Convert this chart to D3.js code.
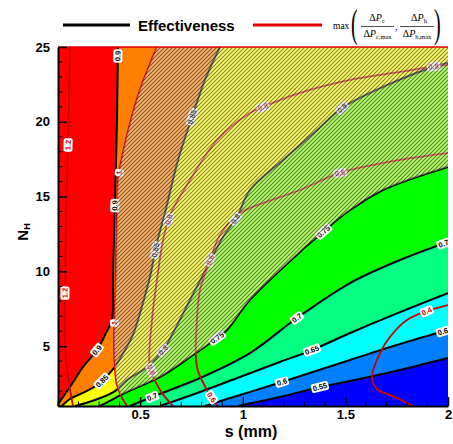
<!DOCTYPE html>
<html>
<head>
<meta charset="utf-8">
<script src="https://cdn.jsdelivr.net/npm/d3@7"></script>
<style>
  body { margin: 0; background: #fff; }
  svg { display: block; }
</style>
</head>
<body>
<svg id="chart" width="453" height="444"></svg>
<script>
// ---- axis ticks ----
const xMajorTicks = [0.5, 1, 1.5, 2];
const yMajorTicks = [5, 10, 15, 20, 25];

// ---- effectiveness contour lines, [s (mm), N_H], ordered from the low-s / low-N end ----
const effLevels = [0.55, 0.6, 0.65, 0.7, 0.75, 0.8, 0.85, 0.9];
const bandColors = ["#0000ff", "#0080ff", "#00ffff", "#00ff80", "#00ff00", "#80ff00", "#ffff00", "#ff8000", "#ff0000"];

const eff055 = [[0.977,1],[1.181,1.60],[1.376,2.27],[1.523,2.67],[1.766,3.41],[2,4.21]];
const eff060 = [[0.816,1],[0.987,1.74],[1.191,2.60],[1.523,4.08],[1.766,5.14],[2,6.08]];
const eff065 = [[0.597,1],[0.792,1.94],[0.987,2.94],[1.181,3.94],[1.337,4.74],[1.523,5.88],[1.766,7.28],[2,8.55]];
const eff070 = [[0.451,1],[0.558,1.60],[0.646,2.07],[0.792,2.87],[1.035,4.54],[1.264,6.88],[1.523,9.22],[1.766,10.76],[2,11.97]];
const eff075 = [[0.305,1],[0.387,1.60],[0.436,1.94],[0.597,2.94],[0.758,4.41],[0.875,5.55],[0.923,6.08],[1.035,8.09],[1.279,11.30],[1.391,12.63],[1.459,13.44],[1.523,14.10],[1.683,15.44],[2,16.98]];
const eff080 = [[0.183,1],[0.280,1.40],[0.378,2.00],[0.436,2.74],[0.534,3.61],[0.612,4.74],[0.660,5.88],[0.743,8.09],[0.826,10.29],[0.904,12.30],[0.972,13.64],[1.035,15.44],[1.196,17.45],[1.362,19.45],[1.484,20.92],[1.683,22.33],[1.912,23.60],[2,23.93]];
const eff085 = [[0.119,1],[0.158,1.47],[0.232,1.94],[0.305,2.54],[0.344,3.07],[0.383,3.74],[0.421,4.61],[0.465,5.75],[0.504,7.42],[0.548,9.62],[0.582,11.90],[0.621,13.90],[0.685,17.45],[0.753,20.32],[0.816,22.80],[0.889,25]];
const eff090 = [[0.1,1.13],[0.158,2.27],[0.222,3.61],[0.290,4.74],[0.334,5.88],[0.363,6.75],[0.368,8.76],[0.370,10.76],[0.378,14.97],[0.387,19.92],[0.392,25]];
const effLines = [eff055, eff060, eff065, eff070, eff075, eff080, eff085, eff090];

// ---- pressure-drop ratio contours: max(dPc/dPc,max , dPh/dPh,max) ----
const dpLevels = ["0.4", "0.6", "0.8", "1", "1.2"];
const dp04 = [[2,7.75],[1.898,7.35],[1.800,6.75],[1.717,5.61],[1.669,4.54],[1.630,2.94],[1.659,2.07],[1.717,1.74],[1.830,1]];
const dp06 = [[2,17.91],[1.766,17.45],[1.474,16.58],[1.279,15.44],[1.035,14.24],[0.972,13.77],[0.889,12.43],[0.841,10.76],[0.792,8.76],[0.777,6.75],[0.777,3.61],[0.826,2.07],[0.875,1]];
const dp08 = [[2,23.80],[1.912,23.66],[1.766,23.33],[1.523,22.80],[1.279,21.93],[1.099,20.99],[1.035,20.59],[0.875,18.78],[0.743,16.11],[0.646,13.77],[0.612,12.10],[0.582,9.42],[0.558,6.75],[0.548,3.61],[0.597,2.07],[0.660,1]];
const dp10 = [[0.582,25],[0.499,22.13],[0.451,19.92],[0.412,17.65],[0.392,16.11],[0.387,13.90],[0.383,10.76],[0.378,8.09],[0.373,5.41],[0.378,3.41],[0.387,2.40],[0.412,1.54],[0.436,1]];
const dp12 = [[0.158,25],[0.149,18.45],[0.139,13.44],[0.134,8.55],[0.134,5.21],[0.149,2.94],[0.173,1]];
const dpLines = [dp04, dp06, dp08, dp10, dp12];

// ---- contour labels: [level index, s, N] ----
const effLabelSpots = [
  [7,0.392,24.4],[7,0.376,14.4],[7,0.290,4.74],
  [6,0.753,20.32],[6,0.582,11.4],[6,0.319,2.60],
  [5,1.484,20.92],[5,0.955,13.6],[5,0.612,4.74],
  [4,1.391,12.7],[4,0.875,5.55],
  [3,1.264,6.88],[3,0.558,1.62],[3,1.975,11.97],
  [2,1.337,4.74],
  [1,1.191,2.60],[1,1.975,5.96],
  [0,1.376,2.27]
];
const dpLabelSpots = [
  [0,1.898,7.28],
  [1,1.474,16.58],[1,0.841,10.76],[1,0.850,1.60],
  [2,1.930,23.66],[2,1.099,20.99],[2,0.612,13.57],[2,0.552,3.41],
  [3,0.398,16.6],[3,0.375,6.55],
  [4,0.149,18.45],[4,0.134,8.55]
];

// ---- layout ----
const svg = d3.select("#chart");
const xMin = 0.1, xMax = 2, yMin = 1, yMax = 25;
const x = d3.scaleLinear().domain([xMin, xMax]).range([58, 448]);
const y = d3.scaleLinear().domain([yMin, yMax]).range([406, 47]);
const sansB = "'Liberation Sans', Arial, sans-serif";
const serif = "'Liberation Serif', 'Times New Roman', serif";

const defs = svg.append("defs");
defs.append("clipPath").attr("id", "plotClip")
  .append("rect").attr("x", x(xMin)).attr("y", y(yMax))
  .attr("width", x(xMax) - x(xMin)).attr("height", y(yMin) - y(yMax));

// diagonal hatch: light wash plus thin dark "/" stripes
const hatch = defs.append("pattern").attr("id", "hatch")
  .attr("patternUnits", "userSpaceOnUse").attr("width", 4).attr("height", 4);
hatch.append("rect").attr("width", 4).attr("height", 4).attr("fill", "#fff").attr("fill-opacity", 0.4);
hatch.append("path").attr("d", "M-1,5L5,-1M-3,3L3,-3M1,7L7,1")
  .attr("stroke", "#000").attr("stroke-opacity", 0.5).attr("stroke-width", 1.1);

const lineGen = d3.line().x(d => x(d[0])).y(d => y(d[1])).curve(d3.curveCatmullRom.alpha(0.5));

// position of a boundary point along the frame, counter-clockwise from bottom-right
function perim(p) {
  const e = 1e-6;
  if (Math.abs(p[0] - xMax) < e) return (p[1] - yMin) / (yMax - yMin);
  if (Math.abs(p[1] - yMax) < e) return 1 + (xMax - p[0]) / (xMax - xMin);
  if (Math.abs(p[0] - xMin) < e) return 2 + (yMax - p[1]) / (yMax - yMin);
  return 3 + (p[0] - xMin) / (xMax - xMin);
}
const corners = [[xMax, yMin], [xMax, yMax], [xMin, yMax], [xMin, yMin]];

// region to the left of the directed line, closed along the frame
function regionPath(pts) {
  const pe = perim(pts[pts.length - 1]);
  let ps = perim(pts[0]);
  if (ps <= pe) ps += 4;
  let d = lineGen(pts);
  for (let k = Math.floor(pe) + 1; k < ps; k++) {
    const c = corners[k % 4];
    d += "L" + x(c[0]) + "," + y(c[1]);
  }
  return d + "Z";
}

const plot = svg.append("g").attr("clip-path", "url(#plotClip)");

// filled effectiveness bands, lowest first
plot.append("rect").attr("x", x(xMin)).attr("y", y(yMax))
  .attr("width", x(xMax) - x(xMin)).attr("height", y(yMin) - y(yMax))
  .attr("fill", bandColors[0]);
effLines.forEach((pts, i) => {
  plot.append("path").attr("d", regionPath(pts)).attr("fill", bandColors[i + 1]);
});

// contour lines
effLines.forEach(pts => {
  plot.append("path").attr("d", lineGen(pts)).attr("fill", "none")
    .attr("stroke", "#000").attr("stroke-width", 2);
});
dpLines.forEach(pts => {
  plot.append("path").attr("d", lineGen(pts)).attr("fill", "none")
    .attr("stroke", "#cc0000").attr("stroke-width", 1.8);
});

// in-line labels
function placeLabel(pts, s, n, text, color) {
  const px = x(s), py = y(n);
  let best = null;
  for (let i = 0; i < pts.length - 1; i++) {
    const x1 = x(pts[i][0]), y1 = y(pts[i][1]), x2 = x(pts[i + 1][0]), y2 = y(pts[i + 1][1]);
    const dx = x2 - x1, dy = y2 - y1, L2 = dx * dx + dy * dy;
    let t = L2 ? ((px - x1) * dx + (py - y1) * dy) / L2 : 0;
    t = Math.max(0, Math.min(1, t));
    const qx = x1 + t * dx, qy = y1 + t * dy;
    const dist = (qx - px) ** 2 + (qy - py) ** 2;
    if (!best || dist < best.dist) best = { dist, qx, qy, ang: Math.atan2(dy, dx) * 180 / Math.PI };
  }
  let a = best.ang;
  if (a > 90) a -= 180;
  if (a < -90) a += 180;
  const g = plot.append("g").attr("transform", `translate(${best.qx},${best.qy}) rotate(${a})`);
  const rect = g.append("rect").attr("fill", "#fff").attr("rx", 2);
  const t = g.append("text").attr("text-anchor", "middle").attr("dy", "0.35em")
    .attr("font-family", sansB).attr("font-weight", "bold").attr("font-size", 7.5)
    .attr("fill", color).text(text);
  const w = t.node().getComputedTextLength() + 3;
  rect.attr("x", -w / 2).attr("y", -4.5).attr("width", w).attr("height", 9);
}
effLabelSpots.forEach(([i, s, n]) => placeLabel(effLines[i], s, n, String(effLevels[i]), "#000"));
dpLabelSpots.forEach(([i, s, n]) => placeLabel(dpLines[i], s, n, dpLevels[i], "#cc0000"));

// hatched zone: effectiveness >= 0.75 and pressure-drop ratio <= 1
// (dp10 runs top to bottom, so its left-hand side is the low-ratio side)
const clip75 = defs.append("clipPath").attr("id", "eff75Clip");
clip75.append("path").attr("d", regionPath(eff075));
plot.append("g").attr("clip-path", "url(#eff75Clip)")
  .append("path").attr("d", regionPath(dp10))
  .attr("fill", "url(#hatch)");

// top frame
svg.append("line").attr("x1", x(xMin)).attr("x2", x(xMax)).attr("y1", y(yMax)).attr("y2", y(yMax))
  .attr("stroke", "#e00000").attr("stroke-width", 1.5);

// axes with inward ticks
const xMinor = d3.range(1, 21).map(k => k / 10).filter(v => !xMajorTicks.some(m => Math.abs(m - v) < 1e-9));
const yMinor = d3.range(1, 26).filter(v => !yMajorTicks.includes(v));

const xAxis = svg.append("g").attr("transform", `translate(0,${y(yMin)})`)
  .call(d3.axisBottom(x).tickValues(xMajorTicks).tickSizeInner(-9).tickSizeOuter(0).tickPadding(4)
    .tickFormat(d3.format("")));
xAxis.append("g").selectAll("line").data(xMinor).join("line")
  .attr("x1", d => x(d)).attr("x2", d => x(d)).attr("y1", 0).attr("y2", -4.5)
  .attr("stroke", "#000").attr("stroke-width", 1);

const yAxis = svg.append("g").attr("transform", `translate(${x(xMin)},0)`)
  .call(d3.axisLeft(y).tickValues(yMajorTicks).tickSizeInner(-9).tickSizeOuter(0).tickPadding(8));
yAxis.append("g").selectAll("line").data(yMinor).join("line")
  .attr("x1", 0).attr("x2", 4.5).attr("y1", d => y(d)).attr("y2", d => y(d))
  .attr("stroke", "#000").attr("stroke-width", 1);

[xAxis, yAxis].forEach(ax => {
  ax.select(".domain").attr("stroke", "#000").attr("stroke-width", 2);
  ax.selectAll(".tick line").attr("stroke", "#000").attr("stroke-width", 1.5);
  ax.selectAll(".tick text").attr("font-family", sansB).attr("font-weight", "bold")
    .attr("font-size", 13).attr("fill", "#000");
});

// axis titles
svg.append("text").attr("x", 251).attr("y", 437).attr("text-anchor", "middle")
  .attr("font-family", sansB).attr("font-weight", "bold").attr("font-size", 16).text("s (mm)");
const yTitle = svg.append("text").attr("transform", "translate(28,232) rotate(-90)")
  .attr("text-anchor", "middle").attr("font-family", sansB).attr("font-weight", "bold").attr("font-size", 15);
yTitle.append("tspan").text("N");
yTitle.append("tspan").attr("font-size", 9).attr("dy", 2).text("H");

// legend
const lg = svg.append("g");
lg.append("line").attr("x1", 63).attr("x2", 130).attr("y1", 25).attr("y2", 25).attr("stroke", "#000").attr("stroke-width", 3);
lg.append("text").attr("x", 138).attr("y", 31).attr("font-family", sansB).attr("font-weight", "bold")
  .attr("font-size", 15).text("Effectiveness");
lg.append("line").attr("x1", 253).attr("x2", 322).attr("y1", 25).attr("y2", 25).attr("stroke", "#e00000").attr("stroke-width", 3);
lg.append("text").attr("x", 333).attr("y", 28.5).attr("font-family", serif).attr("font-size", 9.5).text("max");
lg.append("text").attr("transform", "translate(351,37) scale(0.5,1)").attr("font-family", serif)
  .attr("font-size", 40).text("(");
lg.append("text").attr("transform", "translate(434,37) scale(0.5,1)").attr("font-family", serif)
  .attr("font-size", 40).text(")");
function frac(cx, sub, x0, x1) {
  const num = lg.append("text").attr("x", cx).attr("y", 21).attr("text-anchor", "middle")
    .attr("font-family", serif).attr("font-size", 10);
  num.append("tspan").text("Δ");
  num.append("tspan").attr("font-style", "italic").text("P");
  num.append("tspan").attr("font-size", 6.5).attr("dy", 2).text(sub);
  lg.append("line").attr("x1", x0).attr("x2", x1).attr("y1", 26.5).attr("y2", 26.5)
    .attr("stroke", "#000").attr("stroke-width", 0.7);
  const den = lg.append("text").attr("x", (x0 + x1) / 2).attr("y", 37).attr("text-anchor", "middle")
    .attr("font-family", serif).attr("font-size", 10);
  den.append("tspan").text("Δ");
  den.append("tspan").attr("font-style", "italic").text("P");
  den.append("tspan").attr("font-size", 6.5).attr("dy", 2).text(sub + ",max");
}
frac(377, "c", 361, 394);
lg.append("text").attr("x", 395).attr("y", 30).attr("font-family", serif).attr("font-size", 10).text(",");
frac(419, "h", 400, 434);
</script>
</body>
</html>
